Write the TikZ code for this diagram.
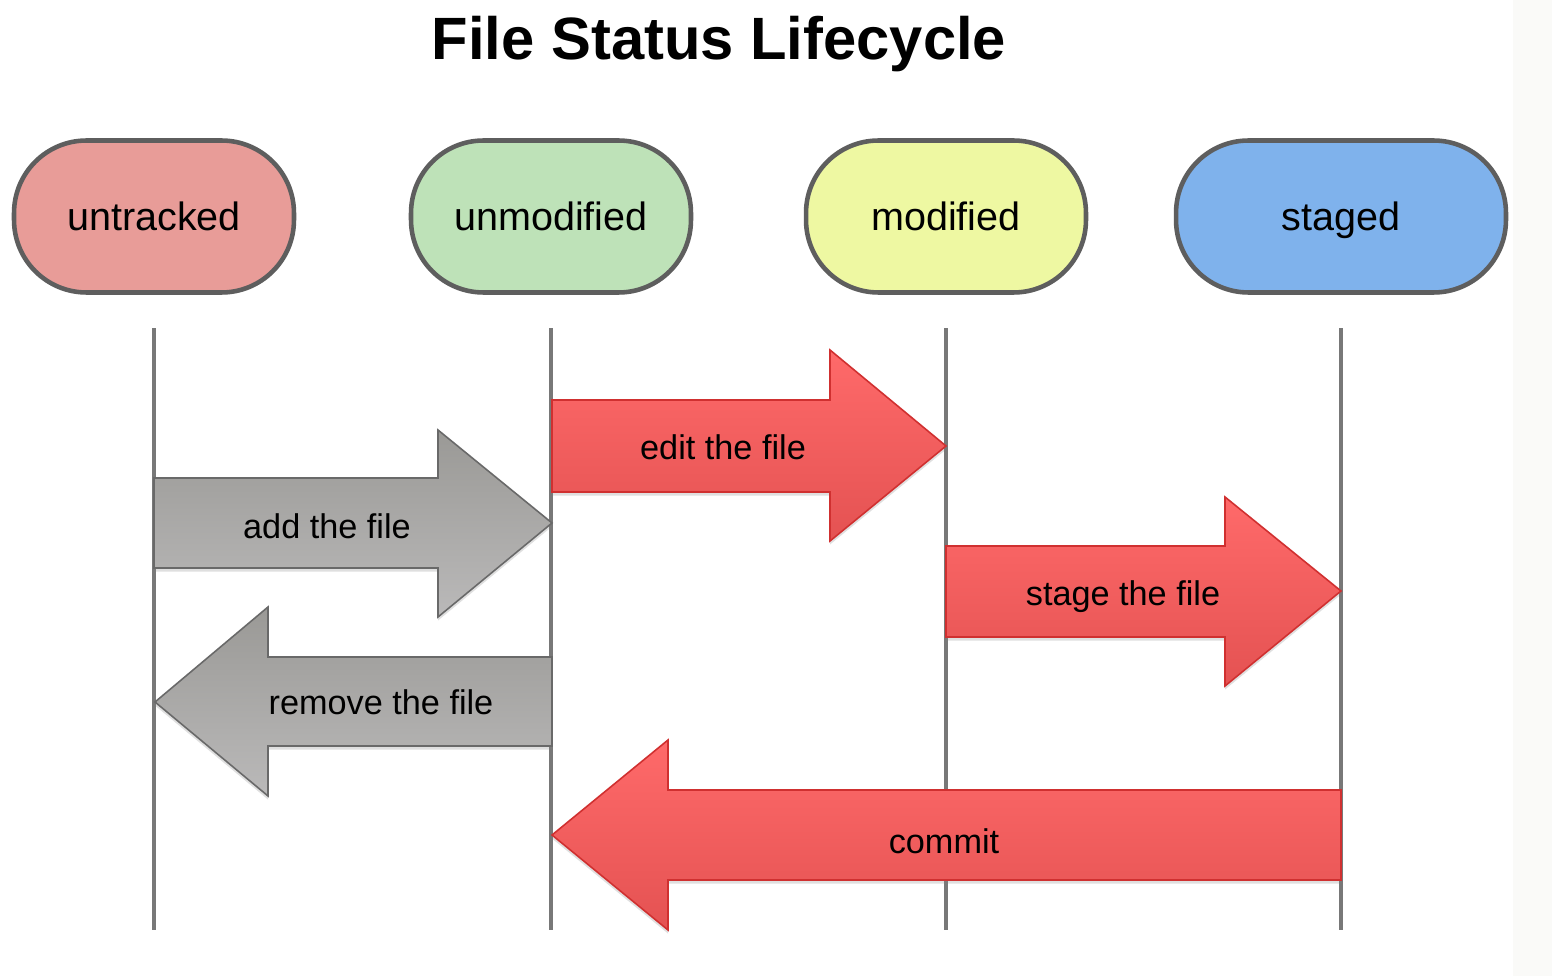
\documentclass[tikz,border=0pt]{standalone}
\usepackage{fontspec}
\setmainfont{Liberation Sans}
\usetikzlibrary{shadows}

\definecolor{untrackedfill}{RGB}{232,156,152}
\definecolor{unmodifiedfill}{RGB}{190,226,184}
\definecolor{modifiedfill}{RGB}{238,248,162}
\definecolor{stagedfill}{RGB}{127,178,236}
\definecolor{stateborder}{RGB}{94,94,94}
\definecolor{lifegray}{RGB}{120,120,120}
\definecolor{redtop}{RGB}{255,106,106}
\definecolor{redbottom}{RGB}{228,82,82}
\definecolor{redborder}{RGB}{208,48,48}
\definecolor{graytop}{RGB}{154,153,150}
\definecolor{graybottom}{RGB}{186,185,185}
\definecolor{grayborder}{RGB}{105,105,105}
\definecolor{sidestrip}{RGB}{250,250,248}

\tikzset{
  state/.style={draw=stateborder, line width=2.6pt, rounded corners=1.45cm,
    minimum width=5.6cm, minimum height=3.04cm,
    font=\fontsize{22.5}{26}\selectfont, text height=16.2pt, text depth=0pt,
    drop shadow={opacity=0.2, shadow xshift=0.4pt, shadow yshift=-1.2pt}},
  lifeline/.style={draw=lifegray, line width=2pt},
  redarrow/.style={draw=redborder, line width=0.9pt, line join=miter,
    top color=redtop, bottom color=redbottom,
    drop shadow={opacity=0.25, shadow xshift=0pt, shadow yshift=-2pt}},
  grayarrow/.style={draw=grayborder, line width=0.9pt, line join=miter,
    top color=graytop, bottom color=graybottom,
    drop shadow={opacity=0.25, shadow xshift=0pt, shadow yshift=-2pt}},
  arrowtext/.style={font=\fontsize{19.5}{22}\selectfont, text height=14pt, text depth=0pt}
}

\begin{document}
\begin{tikzpicture}[x=0.02cm, y=-0.02cm]
			\useasboundingbox (0,0) rectangle (1552,976);
			\fill[white] (0,0) rectangle (1552,976);
			\fill[sidestrip] (1513,0) rectangle (1552,976);
			\node (title) at (719,44) {\fontsize{34}{40}\selectfont\bfseries File Status Lifecycle};
			% states
			\node[state, fill=untrackedfill] (untracked) at (154,216.5) {untracked};
			\node[state, fill=unmodifiedfill] (unmodified) at (551,216.5) {unmodified};
			\node[state, fill=modifiedfill] (modified) at (946,216.5) {modified};
			\node[state, fill=stagedfill, minimum width=6.6cm] (staged) at (1341,216.5) {staged};
			% lifelines
			\foreach \s in {untracked,unmodified,modified,staged}
				\draw[lifeline] ([yshift=-0.67cm]\s.south) -- ++(0,602);
			% transitions
			\draw[grayarrow] (154,478) -- (438,478) -- (438,430) -- (552,523) -- (438,617) -- (438,568) -- (154,568) -- cycle;
			\node[arrowtext] (add) at (327,526) {add the file};
			\draw[redarrow] (552,400) -- (830,400) -- (830,350) -- (946,446) -- (830,541) -- (830,492) -- (552,492) -- cycle;
			\node[arrowtext] (edit) at (723,447) {edit the file};
			\draw[redarrow] (946,546) -- (1225,546) -- (1225,497) -- (1341,591) -- (1225,686) -- (1225,637) -- (946,637) -- cycle;
			\node[arrowtext] (stage) at (1123,593) {stage the file};
			\draw[grayarrow] (552,657) -- (268,657) -- (268,607) -- (155,702) -- (268,796) -- (268,746) -- (552,746) -- cycle;
			\node[arrowtext] (remove) at (381,702) {remove the file};
			\draw[redarrow] (1341,790) -- (668,790) -- (668,740) -- (552,835) -- (668,930) -- (668,880) -- (1341,880) -- cycle;
			\node[arrowtext] (commit) at (944,841) {commit};
		\end{tikzpicture}
\end{document}
